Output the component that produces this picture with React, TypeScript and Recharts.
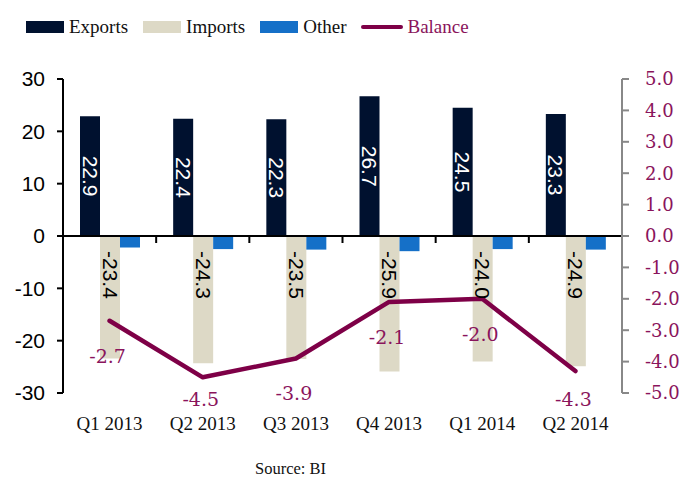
import React from 'react';
import { ComposedChart, Bar, Line, XAxis, YAxis, ReferenceLine, LabelList } from 'recharts';

const categories = ['Q1 2013', 'Q2 2013', 'Q3 2013', 'Q4 2013', 'Q1 2014', 'Q2 2014'];
const exportsValues = [22.9, 22.4, 22.3, 26.7, 24.5, 23.3];
const importsValues = [-23.4, -24.3, -23.5, -25.9, -24.0, -24.9];
const otherValues = [-2.2, -2.5, -2.6, -2.9, -2.5, -2.6];
const balanceValues = [-2.7, -4.5, -3.9, -2.1, -2.0, -4.3];
const leftTicks = [-30, -20, -10, 0, 10, 20, 30];
const rightTicks = [-5, -4, -3, -2, -1, 0, 1, 2, 3, 4, 5];

const NAVY = '#00112F';
const BEIGE = '#DDD9C6';
const BLUE = '#1570C8';
const MAROON = '#7E0047';
const MAROON_TEXT = '#8A145C';

const data = categories.map((c, i) => ({
  category: c,
  exports: exportsValues[i],
  imports: importsValues[i],
  other: otherValues[i],
  balance: balanceValues[i],
}));

const getBox = (p: any) => {
  const vb = p.viewBox && typeof p.viewBox.x === 'number' ? p.viewBox : p;
  return { x: Number(vb.x), y: Number(vb.y), width: Number(vb.width || 0), height: Number(vb.height || 0) };
};

const ExportLabel = (p: any) => {
  const { x, y, width, height } = getBox(p);
  const cx = x + width / 2;
  const cy = y + height / 2;
  return (
    <text x={cx} y={cy} transform={`rotate(90 ${cx} ${cy})`} textAnchor="middle" dominantBaseline="central"
      fill="#ffffff" fontFamily='"Liberation Sans", Arial, sans-serif' fontSize={21}>
      {Number(p.value).toFixed(1)}
    </text>
  );
};

const ImportLabel = (p: any) => {
  const { x, y, width, height } = getBox(p);
  const cx = x + width / 2;
  const top = Math.min(y, y + height) + 15;
  return (
    <text x={cx} y={top} transform={`rotate(90 ${cx} ${top})`} textAnchor="start" dominantBaseline="central"
      fill="#000000" fontFamily='"Liberation Sans", Arial, sans-serif' fontSize={21}>
      {Number(p.value).toFixed(1)}
    </text>
  );
};

const BalanceLabel = (p: any) => {
  const { x, y } = getBox(p);
  const ly = Math.min(y + 35, 399);
  return (
    <text x={x - 2} y={ly} textAnchor="middle" dominantBaseline="central" fill={MAROON_TEXT}
      fontFamily='"DejaVu Serif", serif' fontSize={19}>
      {Number(p.value).toFixed(1)}
    </text>
  );
};

const ZeroLine = (props: any) => {
  const { x1, y1, x2, y2 } = props;
  const n = categories.length;
  const marks = Array.from({ length: n + 1 }, (_, i) => x1 + ((x2 - x1) * i) / n);
  return (
    <g>
      <line x1={x1} y1={y1} x2={x2} y2={y2} stroke="#000" strokeWidth={2} />
      {marks.map((mx, i) => (
        <line key={i} x1={mx} x2={mx} y1={y1} y2={y1 + 7} stroke="#000" strokeWidth={2} />
      ))}
    </g>
  );
};

const legendItems = [
  { label: 'Exports', color: NAVY, type: 'rect' },
  { label: 'Imports', color: BEIGE, type: 'rect' },
  { label: 'Other', color: BLUE, type: 'rect' },
  { label: 'Balance', color: MAROON, type: 'line' },
];

export default function App() {
  return (
    <div style={{ position: 'absolute', left: 0, top: 0, width: 680, height: 478, background: '#fff' }}>
      <div style={{ position: 'absolute', left: 26, top: 15, height: 24, display: 'flex', alignItems: 'center',
        fontFamily: '"Liberation Serif", serif', fontSize: 19, color: '#111' }}>
        {legendItems.map((it) => (
          <div key={it.label} style={{ display: 'flex', alignItems: 'center', marginRight: 15 }}>
            {it.type === 'rect' ? (
              <span style={{ display: 'inline-block', width: 38, height: 12, background: it.color, marginRight: 5 }} />
            ) : (
              <span style={{ display: 'inline-block', width: 42, height: 4.5, borderRadius: 3, background: it.color, marginRight: 4 }} />
            )}
            <span style={{ color: it.type === 'line' ? MAROON_TEXT : '#111' }}>{it.label}</span>
          </div>
        ))}
      </div>
      <ComposedChart width={680} height={478} data={data} margin={{ top: 79, right: 0, bottom: 45, left: 0 }}
        barGap={0} barSize={20}>
        <XAxis dataKey="category" axisLine={false} tickLine={false} tickSize={0} tickMargin={24} height={40}
          tick={{ fill: '#111', fontFamily: '"Liberation Serif", serif', fontSize: 19 }} interval={0} />
        <YAxis yAxisId="left" orientation="left" width={63} domain={[-30, 30]} ticks={leftTicks} interval={0}
          axisLine={{ stroke: '#000', strokeWidth: 2 }} tickLine={{ stroke: '#000', strokeWidth: 2 }}
          tickSize={6} tickMargin={12}
          tick={{ fill: '#000', fontFamily: '"Liberation Sans", Arial, sans-serif', fontSize: 21 }} />
        <YAxis yAxisId="right" orientation="right" width={58} domain={[-5, 5]} ticks={rightTicks} interval={0}
          axisLine={{ stroke: '#888', strokeWidth: 2 }} tickLine={{ stroke: '#888', strokeWidth: 2 }}
          tickSize={7} tickMargin={16} tickFormatter={(v: number) => v.toFixed(1)}
          tick={{ fill: MAROON_TEXT, fontFamily: '"DejaVu Serif", serif', fontSize: 18 }} />
        <Bar yAxisId="left" dataKey="exports" fill={NAVY} isAnimationActive={false}>
          <LabelList dataKey="exports" content={ExportLabel} />
        </Bar>
        <Bar yAxisId="left" dataKey="imports" fill={BEIGE} isAnimationActive={false}>
          <LabelList dataKey="imports" content={ImportLabel} />
        </Bar>
        <Bar yAxisId="left" dataKey="other" fill={BLUE} isAnimationActive={false} />
        <ReferenceLine yAxisId="left" y={0} shape={ZeroLine} ifOverflow="visible" />
        <Line yAxisId="right" type="linear" dataKey="balance" stroke={MAROON} strokeWidth={4.5} dot={false}
          strokeLinecap="round" strokeLinejoin="round" isAnimationActive={false}>
          <LabelList dataKey="balance" content={BalanceLabel} />
        </Line>
      </ComposedChart>
      <div style={{ position: 'absolute', left: 255, top: 459, fontFamily: '"Liberation Serif", serif', fontSize: 16.5, color: '#111' }}>
        Source: BI
      </div>
    </div>
  );
}
